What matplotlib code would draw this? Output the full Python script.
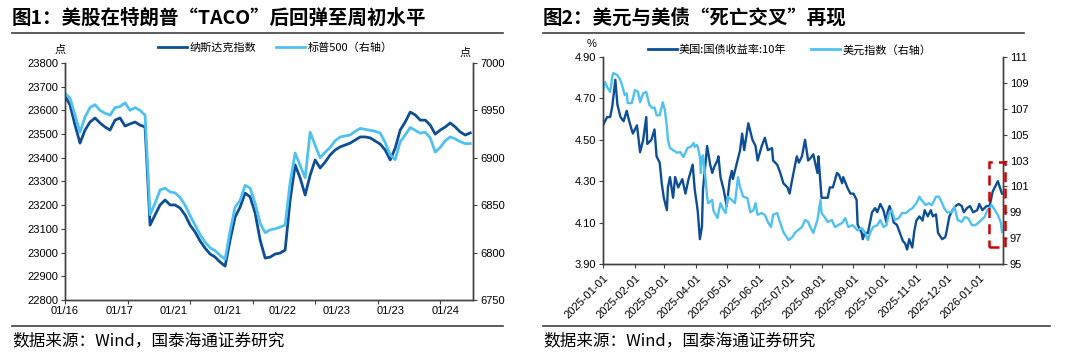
import numpy as np
import pandas as pd
import matplotlib
matplotlib.use("Agg")
import matplotlib.pyplot as plt
from matplotlib.lines import Line2D
from matplotlib.patches import Rectangle
import matplotlib.dates as mdates

plt.rcParams['font.family'] = ['Liberation Sans', 'Noto Sans CJK SC', 'DejaVu Sans']
CJK = ['Noto Sans CJK SC', 'DejaVu Sans']

DARK = '#0D4E94'
LIGHT = '#4FC1F0'
AXC = '#404040'

# ---- chart 1: intraday Nasdaq vs S&P 500 ----
tick_labels_1 = ['01/16', '01/17', '01/21', '01/21', '01/22', '01/23', '01/23', '01/24']
nasdaq = [23661, 23623, 23538, 23462, 23517, 23551, 23568, 23547, 23530, 23517,
          23559, 23568, 23534, 23543, 23551, 23538, 23530, 23116, 23159, 23201,
          23222, 23201, 23201, 23188, 23159, 23116, 23087, 23049, 23019, 22994,
          22981, 22960, 22943, 23053, 23150, 23192, 23251, 23235, 23167, 23053,
          22977, 22981, 22994, 22998, 23011, 23222, 23370, 23315, 23243, 23327,
          23391, 23357, 23382, 23412, 23433, 23446, 23454, 23462, 23475, 23488,
          23488, 23484, 23471, 23458, 23433, 23391, 23441, 23517, 23551, 23593,
          23581, 23559, 23559, 23538, 23500, 23517, 23530, 23547, 23530, 23509,
          23496, 23505]
spx = [6968, 6963, 6945, 6927, 6943, 6953, 6956, 6950, 6947, 6945,
       6953, 6954, 6958, 6950, 6953, 6950, 6945, 6840, 6852, 6866,
       6868, 6864, 6863, 6858, 6850, 6839, 6829, 6819, 6811, 6805,
       6802, 6797, 6793, 6823, 6848, 6855, 6871, 6868, 6852, 6831,
       6821, 6824, 6825, 6827, 6829, 6874, 6905, 6892, 6879, 6927,
       6913, 6900, 6906, 6911, 6918, 6922, 6923, 6924, 6928, 6931,
       6930, 6929, 6928, 6926, 6916, 6903, 6898, 6917, 6924, 6932,
       6929, 6926, 6927, 6921, 6906, 6911, 6918, 6922, 6920, 6917,
       6915, 6915]

# ---- chart 2: UST 10Y vs DXY ----
ust_dates = ['2025-01-01', '2025-01-05', '2025-01-08', '2025-01-10', '2025-01-13', '2025-01-15',
             '2025-01-18', '2025-01-21', '2025-01-24', '2025-01-27', '2025-01-30', '2025-02-03',
             '2025-02-06', '2025-02-09', '2025-02-12', '2025-02-13', '2025-02-17', '2025-02-20',
             '2025-02-22', '2025-02-25', '2025-02-27', '2025-03-01', '2025-03-04', '2025-03-05',
             '2025-03-07', '2025-03-10', '2025-03-12', '2025-03-15', '2025-03-19', '2025-03-22',
             '2025-03-25', '2025-03-29', '2025-03-31', '2025-04-02', '2025-04-03', '2025-04-05',
             '2025-04-07', '2025-04-08', '2025-04-11', '2025-04-12', '2025-04-15', '2025-04-17',
             '2025-04-19', '2025-04-22', '2025-04-23', '2025-04-25', '2025-04-28', '2025-05-01',
             '2025-05-04', '2025-05-06', '2025-05-07', '2025-05-09', '2025-05-11', '2025-05-14',
             '2025-05-16', '2025-05-18', '2025-05-22', '2025-05-26', '2025-05-29', '2025-05-31',
             '2025-06-04', '2025-06-07', '2025-06-10', '2025-06-14', '2025-06-15', '2025-06-19',
             '2025-06-22', '2025-06-25', '2025-06-29', '2025-07-01', '2025-07-04', '2025-07-06',
             '2025-07-08', '2025-07-10', '2025-07-13', '2025-07-16', '2025-07-19', '2025-07-21',
             '2025-07-24', '2025-07-28', '2025-07-29', '2025-08-01', '2025-08-04', '2025-08-07',
             '2025-08-09', '2025-08-12', '2025-08-16', '2025-08-18', '2025-08-21', '2025-08-22',
             '2025-08-26', '2025-08-29', '2025-09-01', '2025-09-04', '2025-09-05', '2025-09-09',
             '2025-09-10', '2025-09-12', '2025-09-15', '2025-09-19', '2025-09-22', '2025-09-24',
             '2025-09-27', '2025-09-30', '2025-10-03', '2025-10-04', '2025-10-06', '2025-10-08',
             '2025-10-10', '2025-10-13', '2025-10-16', '2025-10-19', '2025-10-21', '2025-10-23',
             '2025-10-25', '2025-10-28', '2025-10-30', '2025-11-01', '2025-11-04', '2025-11-07',
             '2025-11-09', '2025-11-12', '2025-11-15', '2025-11-17', '2025-11-20', '2025-11-22',
             '2025-11-26', '2025-11-29', '2025-11-30', '2025-12-03', '2025-12-06', '2025-12-09',
             '2025-12-12', '2025-12-15', '2025-12-17', '2025-12-20', '2025-12-23', '2025-12-26',
             '2025-12-30', '2026-01-01', '2026-01-04', '2026-01-08', '2026-01-11', '2026-01-14',
             '2026-01-16', '2026-01-19', '2026-01-21', '2026-01-23']
ust10y = [4.57, 4.61, 4.61, 4.66, 4.79, 4.67, 4.61, 4.59, 4.64, 4.58, 4.53, 4.57,
          4.44, 4.50, 4.61, 4.48, 4.50, 4.55, 4.42, 4.39, 4.29, 4.22, 4.16, 4.27,
          4.32, 4.22, 4.32, 4.27, 4.31, 4.24, 4.31, 4.38, 4.26, 4.19, 4.15, 4.02,
          4.08, 4.26, 4.42, 4.47, 4.38, 4.34, 4.37, 4.40, 4.42, 4.32, 4.26, 4.18,
          4.31, 4.35, 4.31, 4.35, 4.39, 4.45, 4.53, 4.45, 4.58, 4.50, 4.47, 4.40,
          4.47, 4.51, 4.45, 4.46, 4.40, 4.38, 4.34, 4.29, 4.27, 4.24, 4.32, 4.37,
          4.42, 4.39, 4.42, 4.50, 4.40, 4.41, 4.43, 4.34, 4.42, 4.22, 4.22, 4.22,
          4.27, 4.27, 4.34, 4.33, 4.29, 4.32, 4.27, 4.24, 4.24, 4.21, 4.09, 4.05,
          4.02, 4.05, 4.05, 4.15, 4.17, 4.15, 4.19, 4.16, 4.10, 4.15, 4.18, 4.15,
          4.10, 4.09, 4.05, 4.01, 4.00, 3.97, 4.02, 3.98, 4.06, 4.11, 4.13, 4.11,
          4.16, 4.13, 4.16, 4.13, 4.14, 4.05, 4.02, 4.03, 4.05, 4.13, 4.16, 4.18,
          4.19, 4.18, 4.15, 4.17, 4.18, 4.15, 4.16, 4.19, 4.16, 4.18, 4.18, 4.25,
          4.27, 4.30, 4.27, 4.24]

dxy_dates = ['2025-01-01', '2025-01-03', '2025-01-05', '2025-01-08', '2025-01-10', '2025-01-11',
             '2025-01-15', '2025-01-18', '2025-01-20', '2025-01-22', '2025-01-24', '2025-01-25',
             '2025-01-29', '2025-02-01', '2025-02-04', '2025-02-06', '2025-02-09', '2025-02-12',
             '2025-02-15', '2025-02-18', '2025-02-20', '2025-02-22', '2025-02-25', '2025-02-28',
             '2025-03-02', '2025-03-04', '2025-03-05', '2025-03-07', '2025-03-10', '2025-03-14',
             '2025-03-17', '2025-03-20', '2025-03-24', '2025-03-27', '2025-03-30', '2025-03-31',
             '2025-04-02', '2025-04-03', '2025-04-05', '2025-04-06', '2025-04-07', '2025-04-08',
             '2025-04-10', '2025-04-12', '2025-04-13', '2025-04-17', '2025-04-18', '2025-04-22',
             '2025-04-25', '2025-04-28', '2025-04-30', '2025-05-02', '2025-05-06', '2025-05-09',
             '2025-05-12', '2025-05-14', '2025-05-17', '2025-05-21', '2025-05-24', '2025-05-27',
             '2025-05-29', '2025-05-31', '2025-06-04', '2025-06-07', '2025-06-10', '2025-06-13',
             '2025-06-15', '2025-06-19', '2025-06-22', '2025-06-25', '2025-06-30', '2025-07-04',
             '2025-07-06', '2025-07-09', '2025-07-13', '2025-07-16', '2025-07-19', '2025-07-21',
             '2025-07-24', '2025-07-28', '2025-07-31', '2025-08-01', '2025-08-04', '2025-08-07',
             '2025-08-11', '2025-08-14', '2025-08-17', '2025-08-21', '2025-08-24', '2025-08-27',
             '2025-08-31', '2025-09-03', '2025-09-05', '2025-09-09', '2025-09-12', '2025-09-15',
             '2025-09-17', '2025-09-20', '2025-09-24', '2025-09-27', '2025-09-30', '2025-10-03',
             '2025-10-05', '2025-10-08', '2025-10-11', '2025-10-15', '2025-10-18', '2025-10-22',
             '2025-10-25', '2025-10-28', '2025-11-01', '2025-11-04', '2025-11-06', '2025-11-10',
             '2025-11-13', '2025-11-16', '2025-11-20', '2025-11-23', '2025-11-26', '2025-11-28',
             '2025-12-01', '2025-12-05', '2025-12-08', '2025-12-11', '2025-12-15', '2025-12-18',
             '2025-12-21', '2025-12-25', '2025-12-28', '2025-12-31', '2026-01-03', '2026-01-06',
             '2026-01-09', '2026-01-13', '2026-01-16', '2026-01-19', '2026-01-22', '2026-01-23']
dxy = [108.45, 109.07, 108.68, 108.30, 109.45, 109.76, 109.60, 109.20, 108.70, 108.06,
       108.20, 107.44, 107.44, 108.45, 108.30, 107.50, 108.20, 108.30, 107.30, 107.05,
       107.10, 106.50, 106.50, 107.50, 106.90, 105.60, 104.60, 103.97, 103.80, 103.60,
       103.65, 103.27, 103.97, 104.05, 104.35, 104.05, 104.20, 104.05, 103.27, 102.03,
       103.27, 103.40, 102.00, 100.20, 99.70, 99.95, 99.17, 98.55, 99.70, 99.17,
       98.94, 100.20, 99.95, 99.70, 101.70, 100.95, 100.20, 100.10, 99.00, 99.17,
       99.70, 98.80, 98.94, 98.80, 98.25, 97.86, 98.80, 98.94, 98.17, 97.47,
       96.85, 97.10, 97.40, 97.60, 97.86, 98.40, 98.25, 97.86, 97.40, 98.40,
       99.95, 98.94, 98.63, 98.25, 98.40, 97.86, 98.00, 98.17, 98.55, 97.86,
       98.00, 97.78, 97.60, 97.78, 97.47, 96.85, 97.40, 97.86, 98.00, 98.40,
       97.86, 98.00, 98.80, 99.17, 98.40, 98.55, 98.94, 98.94, 99.17, 99.30,
       99.70, 100.20, 99.95, 99.55, 99.70, 99.55, 100.20, 100.20, 99.70, 99.30,
       99.00, 99.00, 99.40, 98.40, 98.25, 98.63, 98.55, 98.00, 98.00, 98.17,
       98.40, 98.63, 99.17, 99.55, 99.17, 98.80, 98.17, 97.47]

month_ticks = pd.date_range('2025-01-01', '2026-01-01', freq='MS')

fig = plt.figure(figsize=(10.8, 3.57), dpi=100)


def style_axes(ax, ax_r):
    for a in (ax, ax_r):
        a.spines['top'].set_visible(False)
        for s in ('left', 'right', 'bottom'):
            a.spines[s].set_color(AXC)
            a.spines[s].set_linewidth(1.0)
    ax.tick_params(axis='y', direction='out', length=3, color=AXC, labelsize=8, pad=2)
    ax_r.tick_params(axis='y', direction='out', length=3, color=AXC, labelsize=8, pad=2)
    ax.tick_params(axis='x', direction='out', length=3, color=AXC, labelsize=8)


# chart 1
ax1 = fig.add_axes([0.0602, 0.1597, 0.378, 0.6638])
ax1r = ax1.twinx()
x1 = np.arange(len(nasdaq))
ax1.plot(x1, nasdaq, color=DARK, lw=2.0)
ax1r.plot(x1, spx, color=LIGHT, lw=2.0)
ax1.set_ylim(22800, 23800)
ax1.set_yticks(np.arange(22800, 23801, 100))
ax1r.set_ylim(6750, 7000)
ax1r.set_yticks(np.arange(6750, 7001, 50))
# category axis: tick marks and labels sit on different intervals
ax1.xaxis.remove_overlapping_locs = False
ax1.set_xticks(np.arange(7) * 12.5)
ax1.set_xticklabels([])
ax1.set_xticks(np.arange(len(tick_labels_1)) * 10.86, minor=True)
ax1.set_xticklabels(tick_labels_1, minor=True)
ax1.set_xlim(0, 81.6)
style_axes(ax1, ax1r)
ax1.tick_params(axis='x', which='minor', length=0, labelsize=8, pad=4)
fig.text(60 / 1080, 1 - 50 / 357, '点', family=CJK, fontsize=8, ha='center', va='center')
fig.text(465 / 1080, 1 - 53 / 357, '点', family=CJK, fontsize=8, ha='center', va='center')
fig.legend([Line2D([], [], color=DARK, lw=2), Line2D([], [], color=LIGHT, lw=2)],
           ['纳斯达克指数', '标普500（右轴）'], loc='center', bbox_to_anchor=(0.255, 1 - 48 / 357),
           ncol=2, frameon=False, prop={'family': CJK, 'size': 8}, handlelength=2.6,
           handletextpad=0.2, columnspacing=1.8)

# chart 2
ax2 = fig.add_axes([0.5583, 0.2605, 0.3704, 0.5798])
ax2r = ax2.twinx()
ax2.plot(pd.to_datetime(ust_dates), ust10y, color=DARK, lw=1.7)
ax2r.plot(pd.to_datetime(dxy_dates), dxy, color=LIGHT, lw=1.7)
ax2.set_ylim(3.9, 4.9)
ax2.set_yticks(np.arange(3.9, 4.91, 0.2))
ax2.yaxis.set_major_formatter(matplotlib.ticker.FormatStrFormatter('%.2f'))
ax2r.set_ylim(95, 111)
ax2r.set_yticks(np.arange(95, 112, 2))
ax2.set_xlim(pd.Timestamp('2025-01-01'), pd.Timestamp('2026-01-24'))
ax2.set_xticks(month_ticks)
ax2.xaxis.set_major_formatter(mdates.DateFormatter('%Y-%m-%d'))
style_axes(ax2, ax2r)
plt.setp(ax2.get_xticklabels(), rotation=45, ha='right', rotation_mode='anchor')
ax2r.add_patch(Rectangle((mdates.date2num(pd.Timestamp('2026-01-10')), 96.3),
                         16, 6.6, fill=False, edgecolor='#D00000', ls=(0, (4, 2.5)),
                         lw=1.8, clip_on=False, zorder=5))
fig.text(592 / 1080, 1 - 44 / 357, '%', fontsize=8, ha='center', va='center')
fig.legend([Line2D([], [], color=DARK, lw=2), Line2D([], [], color=LIGHT, lw=2)],
           ['美国:国债收益率:10年', '美元指数（右轴）'], loc='center', bbox_to_anchor=(0.731, 1 - 50 / 357),
           ncol=2, frameon=False, prop={'family': CJK, 'size': 8}, handlelength=2.6,
           handletextpad=0.2, columnspacing=2.2)

# titles, rules, source notes
fig.text(12 / 1080, 1 - 18 / 357, '图1：美股在特朗普“TACO”后回弹至周初水平', family=CJK,
         fontsize=14, fontweight='bold', ha='left', va='center')
fig.text(543 / 1080, 1 - 18 / 357, '图2：美元与美债“死亡交叉”再现', family=CJK,
         fontsize=14, fontweight='bold', ha='left', va='center')
for x0, x1_, y in [(12, 503, 33), (543, 1024, 33), (12, 503, 326), (543, 1050, 326)]:
    fig.add_artist(Line2D([x0 / 1080, x1_ / 1080], [1 - y / 357] * 2, color='#404040', lw=1.2))
for x0 in (12, 543):
    fig.text(x0 / 1080, 1 - 341 / 357, '数据来源：Wind，国泰海通证券研究', family=CJK,
             fontsize=12, ha='left', va='center')

fig.savefig('out.png', dpi=100)
